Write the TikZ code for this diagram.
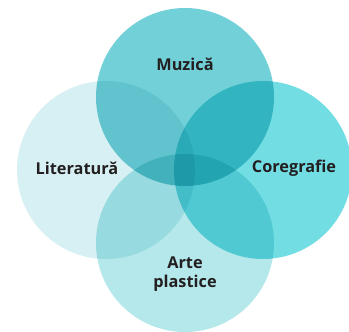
\documentclass[tikz,border=0pt]{standalone}
\usepackage{fontspec}
\setmainfont{Open Sans}
\definecolor{litc}{HTML}{D7F0F3}
\definecolor{muzc}{HTML}{72D0D8}
\definecolor{corc}{HTML}{72DEE4}
\definecolor{artc}{HTML}{B4E8EB}
\definecolor{txt}{HTML}{231F20}
\tikzset{
  circ/.style={circle, minimum size=178pt, inner sep=0pt, draw=none},
  lbl/.style={font=\bfseries\fontsize{16.3}{19}\selectfont, text=txt, align=center, inner sep=0pt}
}
\begin{document}
\begin{tikzpicture}[x=1pt,y=-1pt]
\useasboundingbox (0,0) rectangle (349,332);
\begin{scope}[blend group=multiply]
\node[circ, fill=litc] (lit) at (106,170) {};
\node[circ, fill=muzc] (muz) at (185,97) {};
\node[circ, fill=corc] (cor) at (263,170) {};
\node[circ, fill=artc] (art) at (185,243) {};
\end{scope}
\node[lbl] (tmuz) at (185,64) {Muzică};
\node[lbl] (tlit) at (77,168) {Literatură};
\node[lbl] (tcor) at (294,168) {Coregrafie};
\node[lbl] (tart) at (185,274) {Arte\\plastice};
\end{tikzpicture}
\end{document}
